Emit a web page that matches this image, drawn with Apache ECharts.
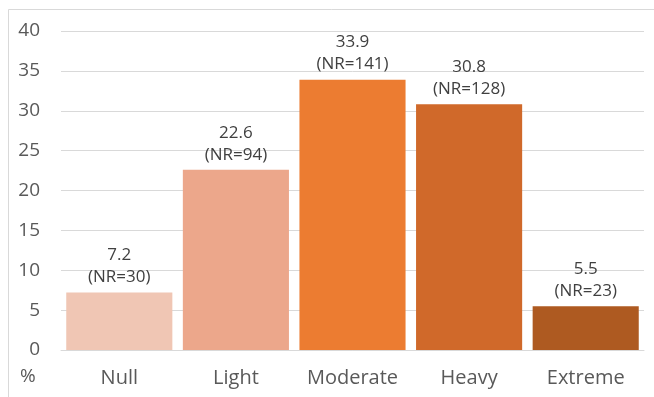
<!DOCTYPE html>
<html>
<head>
<meta charset="utf-8">
<script src="https://cdn.jsdelivr.net/npm/echarts@6/dist/echarts.min.js"></script>
<style>
html,body{margin:0;padding:0;background:#fff;}
#main{width:654px;height:397px;}
</style>
</head>
<body>
<div id="main"></div>
<script>
var categories = ['Null', 'Light', 'Moderate', 'Heavy', 'Extreme'];
var values = [7.2, 22.6, 33.9, 30.8, 5.5];
var nrCounts = [30, 94, 141, 128, 23];
var colors = ['#F0C6B4', '#ECA78B', '#EC7C31', '#D0692A', '#AE5A21'];
var yTicks = [0, 5, 10, 15, 20, 25, 30, 35, 40];

var chart = echarts.init(document.getElementById('main'));
var font = '"Open Sans", "Noto Sans", sans-serif';
chart.setOption({
  animation: false,
  backgroundColor: '#fff',
  graphic: [
    {type: 'rect', shape: {x: 8.5, y: 9.5, width: 660, height: 400}, style: {fill: 'none', stroke: '#d9d9d9', lineWidth: 1}, z: -1},
    {type: 'text', left: 20, top: 367, style: {text: '%', font: '19px ' + font, fill: '#595959'}}
  ],
  grid: {left: 61, right: 10, top: 31, bottom: 47},
  xAxis: {
    type: 'category',
    data: categories,
    axisLine: {lineStyle: {color: '#d9d9d9'}},
    axisTick: {show: false},
    axisLabel: {color: '#595959', fontSize: 20, fontFamily: font, margin: 18, interval: 0}
  },
  yAxis: {
    type: 'value',
    min: yTicks[0],
    max: yTicks[yTicks.length - 1],
    interval: 5,
    axisLine: {show: false},
    axisTick: {show: false},
    splitLine: {lineStyle: {color: '#d9d9d9'}},
    axisLabel: {color: '#595959', fontSize: 19, fontFamily: font, margin: 21}
  },
  series: [{
    type: 'bar',
    barCategoryGap: '9%',
    data: values.map(function (v, i) {
      return {value: v, itemStyle: {color: colors[i]}};
    }),
    label: {
      show: true,
      position: 'top',
      distance: 4,
      color: '#404040',
      fontSize: 17,
      fontFamily: font,
      lineHeight: 22,
      formatter: function (p) {
        return p.value.toFixed(1) + '\n(NR=' + nrCounts[p.dataIndex] + ')';
      }
    }
  }]
});
</script>
</body>
</html>
